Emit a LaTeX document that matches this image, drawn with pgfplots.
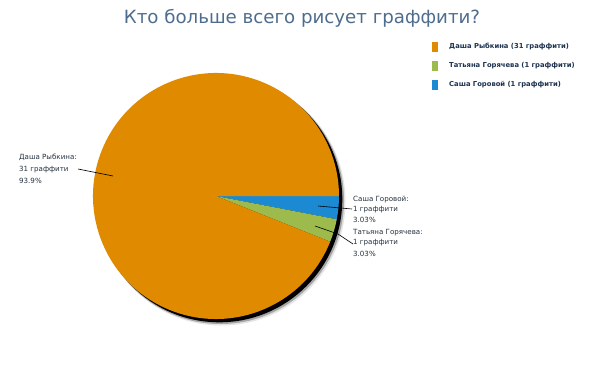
\documentclass[border=0pt]{standalone}
\usepackage{pgfplots}
\pgfplotsset{compat=1.18}
\usepackage{pgfplotstable}
\usepackage{fontspec}
\setmainfont{DejaVu Sans}
\definecolor{cDasha}{HTML}{E08A00}
\definecolor{cTat}{HTML}{9DBB4C}
\definecolor{cSasha}{HTML}{1C8AD2}
\definecolor{titleblue}{HTML}{4E6D8E}
\definecolor{labeltext}{HTML}{26323F}
\definecolor{legtext}{HTML}{1E3350}

\pgfplotstableread{
name value
Sasha 1
Tatyana 1
Dasha 31
}\piedata

\begin{document}
\begin{tikzpicture}
\pgfplotstablegetelem{0}{value}\of\piedata \let\vA\pgfplotsretval
\pgfplotstablegetelem{1}{value}\of\piedata \let\vB\pgfplotsretval
\pgfplotstablegetelem{2}{value}\of\piedata \let\vC\pgfplotsretval
\pgfmathsetmacro\tot{\vA+\vB+\vC}
\pgfmathsetmacro\aA{-360*\vA/\tot}
\pgfmathsetmacro\aB{\aA-360*\vB/\tot}
\begin{axis}[width=604pt,height=378pt,scale only axis,
  xmin=0,xmax=604,ymin=0,ymax=378,axis lines=none,ticks=none,clip=false]
\fill[white] (axis cs:0,0) rectangle (axis cs:604,378);
% title
\node[font=\fontsize{18.2}{21}\selectfont,text=titleblue] at (axis cs:302,360) {Кто больше всего рисует граффити?};
% shadow
\fill[black!10] (axis cs:221.5,176.5) circle[radius=124];
\fill[black!35] (axis cs:220.5,177.5) circle[radius=123.5];
\fill[black] (axis cs:219.3,178.7) circle[radius=123];
% slices
\fill[cSasha] (axis cs:216,182) -- ++(0:123pt) arc[start angle=0,end angle=\aA,radius=123pt] -- cycle;
\fill[cTat] (axis cs:216,182) -- ++(\aA:123pt) arc[start angle=\aA,end angle=\aB,radius=123pt] -- cycle;
\fill[cDasha] (axis cs:216,182) -- ++(\aB:123pt) arc[start angle=\aB,end angle=-360,radius=123pt] -- cycle;
% leader lines
\draw[black,line width=0.6pt] (axis cs:78,209) -- (axis cs:113,202);
\draw[black,line width=0.6pt] (axis cs:318,172) -- (axis cs:352,169);
\draw[black,line width=0.6pt] (axis cs:315,152) -- (axis cs:338,144) -- (axis cs:353,134);
% labels
\begin{scope}[font=\fontsize{7.1}{8}\selectfont,text=labeltext,inner sep=0pt,anchor=west]
\node[anchor=west] at (axis cs:19,221) {Даша Рыбкина:};
\node[anchor=west] at (axis cs:19,208.5) {31 граффити};
\node[anchor=west] at (axis cs:19,197) {93.9\%};
\node[anchor=west] at (axis cs:353,178) {Саша Горовой:};
\node[anchor=west] at (axis cs:353,168) {1 граффити};
\node[anchor=west] at (axis cs:353,158) {3.03\%};
\node[anchor=west] at (axis cs:353,145) {Татьяна Горячева:};
\node[anchor=west] at (axis cs:353,135) {1 граффити};
\node[anchor=west] at (axis cs:353,124) {3.03\%};
\end{scope}
% legend
\fill[cDasha] (axis cs:432,326) rectangle (axis cs:438,336);
\fill[cTat] (axis cs:432,307) rectangle (axis cs:438,317);
\fill[cSasha] (axis cs:432,288) rectangle (axis cs:438,298);
\begin{scope}[font=\bfseries\fontsize{6.8}{8}\selectfont,text=legtext,inner sep=0pt]
\node[anchor=west] at (axis cs:449,331) {Даша Рыбкина (31 граффити)};
\node[anchor=west] at (axis cs:449,312) {Татьяна Горячева (1 граффити)};
\node[anchor=west] at (axis cs:449,293) {Саша Горовой (1 граффити)};
\end{scope}
\end{axis}
\end{tikzpicture}
\end{document}
